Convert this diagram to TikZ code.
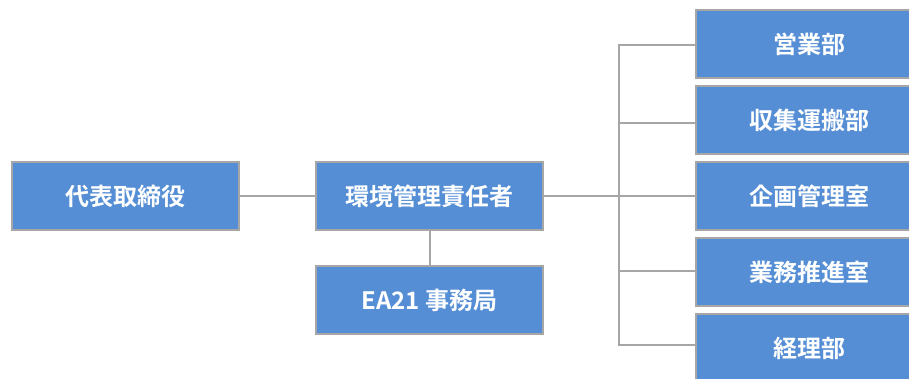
\documentclass[tikz,border=0pt]{standalone}
\usepackage{fontspec}
\newfontfamily\jp{Noto Sans CJK JP}[BoldFont={* Bold}]
\definecolor{boxblue}{HTML}{558ED5}
\definecolor{edgegray}{HTML}{A6A6A6}
\tikzset{
  orgbox/.style={draw=edgegray, line width=2pt, fill=boxblue, minimum width=227pt, minimum height=68pt, inner sep=0pt, text=white, font=\jp\bfseries\fontsize{24pt}{28pt}\selectfont, anchor=north west},
  link/.style={draw=edgegray, line width=2pt}
}
\begin{document}
\begin{tikzpicture}[x=1pt, y=-1pt]
\useasboundingbox (0,0) rectangle (909,378);
\clip (0,0) rectangle (909,378);
\node[orgbox] (ceo) at (11,161) {代表取締役};
\node[orgbox] (mgr) at (315,161) {環境管理責任者};
\node[orgbox] (ea) at (315,265) {EA21 事務局};
\node[orgbox] (d1) at (695,9) {営業部};
\node[orgbox] (d2) at (695,85) {収集運搬部};
\node[orgbox] (d3) at (695,161) {企画管理室};
\node[orgbox] (d4) at (695,237) {業務推進室};
\node[orgbox] (d5) at (695,313) {経理部};
\coordinate (bus1) at (619,45);
\coordinate (bus5) at (619,345);
\draw[link] (ceo.east) -- (mgr.west);
\draw[link] (mgr.south) -- (ea.north);
\draw[link] (mgr.east) -- (d3.west);
\draw[link] (d1.west |- bus1) -- (bus1) -- (bus5) -- (d5.west |- bus5);
\draw[link] (619,123) -- (d2.west |- 0,123);
\draw[link] (619,271) -- (d4.west |- 0,271);
\end{tikzpicture}
\end{document}
